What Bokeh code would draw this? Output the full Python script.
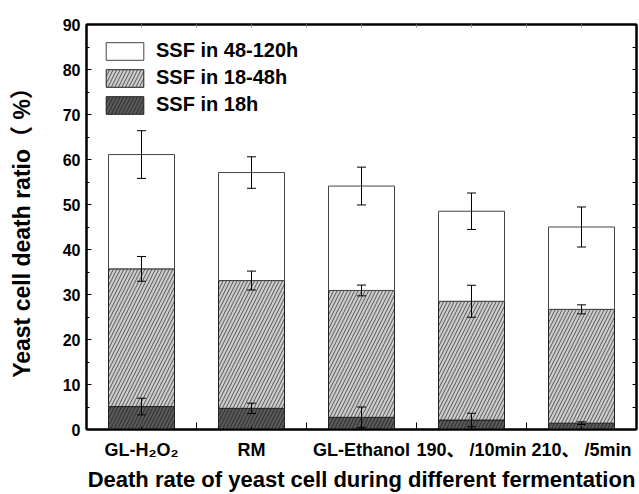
from bokeh.plotting import figure
from bokeh.models import (ColumnDataSource, FixedTicker, LinearAxis, Whisker, TeeHead,
                          Legend, LegendItem, Range1d)
from bokeh.embed import file_html
from bokeh.resources import INLINE

# ---- data ----
categories = ["GL-H\u2082O\u2082", "RM", "GL-Ethanol", "190\u3001 /10min", "210\u3001 /5min"]
ssf_18h = [5.1, 4.7, 2.7, 2.1, 1.4]          # death ratio after 18h
ssf_18_48h_top = [35.7, 33.1, 30.9, 28.5, 26.7]   # cumulative after 48h
ssf_total = [61.1, 57.1, 54.1, 48.5, 45.0]        # cumulative after 120h
err_18h = [1.85, 1.15, 2.3, 1.5, 0.3]
err_48h = [2.75, 2.1, 1.2, 3.55, 1.0]
err_total = [5.3, 3.5, 4.2, 4.05, 4.45]
y_ticks = [0, 10, 20, 30, 40, 50, 60, 70, 80, 90]
series_names = ["SSF in 48-120h", "SSF in 18-48h", "SSF in 18h"]

FONT = "Liberation Sans, Noto Sans CJK SC"
n = len(categories)
xc = [i + 0.5 for i in range(n)]
zeros = [0] * n

src = ColumnDataSource(dict(
    x=xc, b0=zeros, t0=ssf_18h, t1=ssf_18_48h_top, t2=ssf_total,
    lo0=[v - e for v, e in zip(ssf_18h, err_18h)], hi0=[v + e for v, e in zip(ssf_18h, err_18h)],
    lo1=[v - e for v, e in zip(ssf_18_48h_top, err_48h)], hi1=[v + e for v, e in zip(ssf_18_48h_top, err_48h)],
    lo2=[v - e for v, e in zip(ssf_total, err_total)], hi2=[v + e for v, e in zip(ssf_total, err_total)],
))

p = figure(width=639, height=494, output_backend="svg", toolbar_location=None,
           x_range=Range1d(0, n), y_range=Range1d(0, 90), x_axis_location=None, y_axis_location=None,
           min_border_left=86, min_border_right=3, min_border_top=24, min_border_bottom=61)
p.xgrid.visible = False
p.ygrid.visible = False
p.outline_line_color = "black"
p.outline_line_width = 2
p.background_fill_color = "white"
p.border_fill_color = "white"

r0 = p.vbar(x="x", bottom="b0", top="t0", width=0.6, source=src,
            fill_color="#5a5a5a", line_color="#222222", line_width=1,
            hatch_pattern="/", hatch_color="#2a2a2a", hatch_scale=7, hatch_weight=1)
r1 = p.vbar(x="x", bottom="t0", top="t1", width=0.6, source=src,
            fill_color="#cccccc", line_color="#222222", line_width=1,
            hatch_pattern="/", hatch_color="#555555", hatch_scale=7, hatch_weight=1)
r2 = p.vbar(x="x", bottom="t1", top="t2", width=0.6, source=src,
            fill_color="white", line_color="#444444", line_width=1)

for lo, hi in (("lo0", "hi0"), ("lo1", "hi1"), ("lo2", "hi2")):
    w = Whisker(source=src, base="x", lower=lo, upper=hi, line_color="black", line_width=1,
                upper_head=TeeHead(size=9, line_color="black", line_width=1),
                lower_head=TeeHead(size=9, line_color="black", line_width=1))
    w.level = "annotation"
    p.add_layout(w)

# ---- axes ----
left = LinearAxis(ticker=FixedTicker(ticks=y_ticks, minor_ticks=[v + 5 for v in y_ticks[:-1]]),
                  axis_label="Yeast cell death ratio\uff08 %\uff09")
left.axis_line_width = 2
left.major_tick_out = 0
left.major_tick_in = 5
left.minor_tick_out = 0
left.minor_tick_in = 3
left.major_label_standoff = 6
left.major_label_text_font = FONT
left.major_label_text_font_style = "bold"
left.major_label_text_font_size = "16px"
left.major_label_text_color = "black"
left.axis_label_text_font = FONT
left.axis_label_text_font_style = "bold"
left.axis_label_text_font_size = "23px"
left.axis_label_text_color = "black"
left.axis_label_standoff = 25
p.add_layout(left, "left")

bottom = LinearAxis(ticker=FixedTicker(ticks=xc, minor_ticks=list(range(1, n))),
                    axis_label="Death rate of yeast cell during different fermentation")
bottom.major_label_overrides = {x: c for x, c in zip(xc, categories)}
bottom.axis_line_width = 2
bottom.major_tick_out = 0
bottom.major_tick_in = 3
bottom.minor_tick_out = 0
bottom.minor_tick_in = 7
bottom.major_label_standoff = 10
bottom.major_label_text_font = FONT
bottom.major_label_text_font_style = "bold"
bottom.major_label_text_font_size = "18px"
bottom.major_label_text_color = "black"
bottom.axis_label_text_font = FONT
bottom.axis_label_text_font_style = "bold"
bottom.axis_label_text_font_size = "22px"
bottom.axis_label_text_color = "black"
bottom.axis_label_standoff = 4
p.add_layout(bottom, "below")

right = LinearAxis(ticker=FixedTicker(ticks=y_ticks, minor_ticks=[v + 5 for v in y_ticks[:-1]]))
right.axis_line_width = 2
right.major_tick_out = 0
right.major_tick_in = 4
right.minor_tick_out = 0
right.minor_tick_in = 4
right.major_label_text_font_size = "0px"
right.major_label_standoff = 0
p.add_layout(right, "right")

top = LinearAxis(ticker=FixedTicker(ticks=[i * 0.5 for i in range(1, 2 * n)]))
top.axis_line_width = 2
top.major_tick_out = 0
top.major_tick_in = 3
top.major_tick_line_color = "#888888"
top.minor_tick_line_color = None
top.major_label_text_font_size = "0px"
top.major_label_standoff = 0
p.add_layout(top, "above")

legend = Legend(items=[LegendItem(label=series_names[0], renderers=[r2]),
                       LegendItem(label=series_names[1], renderers=[r1]),
                       LegendItem(label=series_names[2], renderers=[r0])],
                location="top_left")
legend.margin = 15
legend.padding = 2
legend.border_line_color = None
legend.background_fill_alpha = 0
legend.glyph_width = 47
legend.glyph_height = 22
legend.label_height = 22
legend.spacing = 4
legend.label_standoff = 8
legend.label_text_font = FONT
legend.label_text_font_style = "bold"
legend.label_text_font_size = "20px"
legend.label_text_color = "black"
p.add_layout(legend)

open("out.html", "w").write(file_html(p, INLINE))
